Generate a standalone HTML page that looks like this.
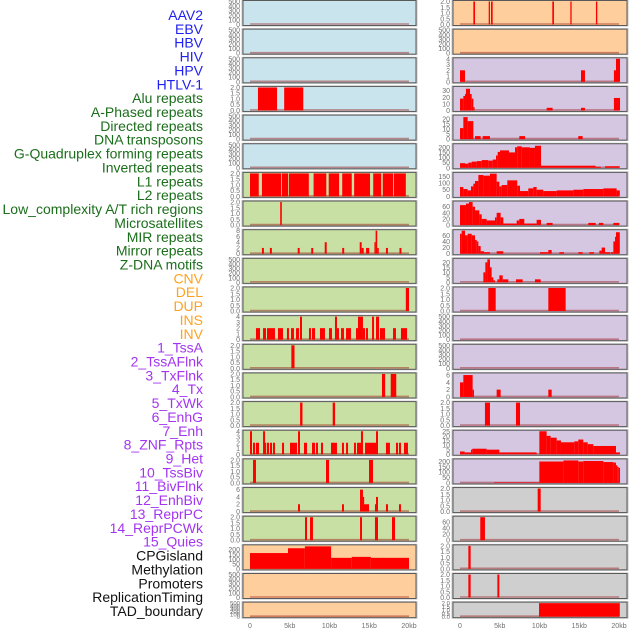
<!DOCTYPE html>
<html><head><meta charset="utf-8">
<style>
body{margin:0;background:#fff;width:630px;height:630px;overflow:hidden;font-family:"Liberation Sans",sans-serif}
svg{display:block}
</style></head>
<body>
<svg id="chart" width="630" height="630" viewBox="0 0 630 630" xmlns="http://www.w3.org/2000/svg">
<g id="labels"></g><g id="panels"></g><g id="xaxes"></g>
</svg>
<script>
// ---- track labels ----
const labelNames = ["AAV2","EBV","HBV","HIV","HPV","HTLV-1","Alu repeats","A-Phased repeats","Directed repeats","DNA transposons","G-Quadruplex forming repeats","Inverted repeats","L1 repeats","L2 repeats","Low_complexity A/T rich regions","Microsatellites","MIR repeats","Mirror repeats","Z-DNA motifs","CNV","DEL","DUP","INS","INV","1_TssA","2_TssAFlnk","3_TxFlnk","4_Tx","5_TxWk","6_EnhG","7_Enh","8_ZNF_Rpts","9_Het","10_TssBiv","11_BivFlnk","12_EnhBiv","13_ReprPC","14_ReprPCWk","15_Quies","CPGisland","Methylation","Promoters","ReplicationTiming","TAD_boundary"];
const labelGroups = [6,13,5,15,5];
const groupColors = ["#1f1ff0","#1b6e1b","#ffa21f","#a335f0","#111111"];
const xTickValues = [0,5,10,15,20];
const xTickLabels = ["0","5kb","10kb","15kb","20kb"];

// ---- series (start kb, end kb, value) ----
const L_alu = [[1.0,3.4,2],[4.3,6.7,2]];
const L_l1 = [[0,1.1,2],[1.5,3.9,2],[4.0,4.8,2],[4.9,7.4,2],[8.0,9.6,2],[9.9,11.2,2],[11.6,12.8,2],[13.1,15.1,2],[15.5,16.5,2],[16.7,18.0,2],[18.1,19.6,2]];
const L_low = [[3.8,4.0,2]];
const L_mir = [[1.5,1.75,2],[2.5,2.75,2],[6.0,6.25,2],[7.7,7.95,2],[9.4,9.65,4],[11.6,11.85,2],[13.8,14.05,4],[14.05,14.3,2],[14.6,15.0,2],[15.65,15.8,4],[15.8,16.0,8],[16.0,16.2,2],[17.1,17.35,2],[18.8,19.05,2]];
const L_del = [[19.6,20.0,2]];
const L_ins = [[0.75,1.26,2],[1.64,2.01,2],[2.14,2.52,2],[2.52,3.14,2],[3.52,4.15,2],[4.65,4.9,2],[5.16,5.53,2],[5.79,6.16,2],[6.29,6.54,4],[7.42,7.67,2],[7.8,8.18,2],[8.8,9.43,2],[9.94,10.31,2],[10.69,10.94,4],[10.94,11.19,2],[11.45,11.82,2],[12.08,12.7,2],[13.33,13.58,2],[13.58,14.21,4],[14.21,14.47,2],[14.59,14.84,2],[15.35,15.6,4],[15.85,16.23,4],[16.35,16.98,2],[17.99,18.36,2],[18.99,19.75,2]];
const L_tssa = [[5.2,5.6,2]];
const L_txflnk = [[16.6,17.0,2],[17.7,18.4,2]];
const L_txwk = [[6.3,6.6,2],[10.4,10.7,2]];
const L_enh = [[0,0.25,4],[0.38,0.63,2],[0.75,1.13,2],[1.64,1.89,4],[1.89,2.01,2],[2.14,2.39,2],[2.52,2.77,2],[2.89,3.14,2],[4.03,4.28,2],[5.03,5.41,2],[5.41,5.91,2],[6.04,6.29,4],[6.79,7.17,2],[7.8,8.18,2],[8.3,8.55,2],[8.93,9.18,2],[10.19,10.94,2],[11.57,11.82,2],[12.08,12.33,2],[13.08,13.33,2],[13.46,13.96,2],[13.96,14.21,4],[14.47,15.85,2],[15.85,16.1,4],[17.1,17.6,2],[18.36,18.62,2],[18.74,18.99,2],[19.37,19.87,2]];
const L_het = [[0.38,0.75,2],[9.56,9.94,2],[14.97,15.47,2]];
const L_bivflnk = [[6.04,6.29,2],[11.57,11.82,2],[13.84,14.21,6],[14.21,14.34,4],[14.34,14.97,2],[15.72,15.85,2],[15.85,16.1,4],[17.1,17.36,2],[18.74,18.99,2]];
const L_reprpc = [[6.92,7.17,2],[7.55,7.92,2],[13.84,14.09,2],[15.72,16.1,2],[17.86,18.24,2]];
const L_cpg = [[0,4.78,165],[4.78,6.9,215],[6.9,10.2,235],[10.2,12.8,115],[12.8,15.2,125],[15.2,20,115]];

const R_aav2 = [[1.68,1.89,2],[3.61,3.77,2],[3.9,4.11,2],[11.61,11.82,2],[13.88,14.04,2],[17.1,17.27,2]];
const R_hiv = [[0,0.63,2],[15.22,15.72,2],[19.36,19.62,2],[19.62,20.13,4]];
const R_alu = [[0,0.42,18],[0.42,0.63,22],[0.63,0.75,25],[0.75,1.26,33],[1.26,1.47,25],[1.47,1.68,18],[1.68,1.8,5],[10.9,11.65,4],[15.22,15.72,4],[19.36,20.13,19]];
const R_dir = [[0,0.42,11],[0.42,0.96,22],[0.96,1.68,18],[1.89,2.6,3],[2.85,3.77,3],[7.46,8.18,3],[14.88,15.43,3]];
const R_gq = [[0,0.63,45],[0.63,1.05,40],[1.05,1.47,50],[1.47,2.1,60],[2.1,2.73,65],[2.73,3.56,75],[3.56,4.11,70],[4.11,4.53,80],[4.53,4.74,120],[4.74,5.03,155],[5.03,6.16,170],[6.16,6.92,150],[6.92,7.2,200],[7.2,7.76,210],[7.76,8.8,200],[8.8,9.43,195],[9.43,10.19,215],[10.19,17.06,20],[17.06,17.7,10],[18.24,20.1,15]];
const R_l1 = [[0,0.42,70],[0.42,0.96,55],[0.96,1.38,45],[1.38,1.68,75],[1.68,1.89,95],[1.89,2.31,115],[2.31,2.94,160],[2.94,3.77,155],[3.77,4.61,170],[4.61,4.95,110],[4.95,5.24,75],[5.24,5.95,85],[5.95,7.2,120],[7.2,7.55,80],[7.55,8.59,40],[8.59,9.22,60],[9.22,9.64,70],[9.64,10.48,50],[10.48,12.16,40],[12.16,14.25,45],[14.25,15.51,50],[15.51,18.03,55],[18.03,19.7,60],[19.7,20.1,45]];
const R_low = [[0,0.75,65],[0.75,1.13,70],[1.13,1.59,75],[1.59,1.89,60],[1.89,2.43,48],[2.43,2.73,35],[2.73,3.35,20],[3.35,4.4,15],[4.4,4.61,25],[4.61,5.11,40],[5.11,5.45,25],[5.45,7.13,5],[7.13,7.46,15],[7.46,8.09,20],[8.09,9.64,5],[9.64,10.19,17],[10.9,11.65,7],[16.14,17.06,7],[17.48,18.03,7],[19.29,20.04,7]];
const R_mir = [[0,0.21,65],[0.21,0.63,75],[0.63,0.96,60],[0.96,1.47,65],[1.47,1.89,60],[1.89,2.1,45],[2.1,2.31,40],[2.31,2.6,25],[2.6,3.02,8],[3.02,3.77,5],[4.61,5.45,8],[10.06,11.11,5],[11.11,11.53,12],[12.5,13.08,5],[14.88,15.43,5],[16.27,16.86,5],[17.53,17.82,10],[17.82,18.24,20],[18.24,18.87,5],[18.95,19.29,5],[19.29,19.5,40],[19.5,19.62,55],[19.62,20.1,70]];
const R_zdna = [[2.94,3.19,10],[3.19,3.44,20],[3.44,3.77,23],[3.77,3.98,15],[3.98,4.19,5],[4.19,4.4,2],[4.7,4.95,3],[4.95,5.37,7],[5.37,6.08,3],[7.04,7.88,3],[9.43,10.15,3]];
const R_del = [[3.56,4.49,2],[11.11,13.29,2]];
const R_tssaflnk = [[0,0.42,4],[0.42,1.59,6],[1.59,1.76,2],[4.61,5.11,2],[11.11,11.53,2]];
const R_txwk = [[3.14,3.77,2],[7.04,7.55,2]];
const R_znf = [[0,0.59,3],[0.59,1.38,2],[1.38,1.55,5],[1.55,3.35,6],[3.35,4.95,5],[4.95,9.64,2],[9.98,10.9,25],[10.9,11.4,20],[11.4,12.16,18],[12.16,12.7,15],[12.7,14.38,13],[14.38,14.88,14],[14.88,15.51,16],[15.51,16.06,13],[16.06,16.77,11],[16.77,19.62,9],[19.62,20.13,2]];
const R_tssbiv = [[4.28,9.98,5],[9.98,13.0,200],[13.0,14.88,210],[14.88,15.51,200],[15.51,18.03,205],[18.03,19.29,195],[19.29,19.62,190],[19.62,19.79,165],[19.79,19.96,150],[19.96,20.13,140]];
const R_enhbiv = [[9.77,10.15,2]];
const R_reprpcwk = [[2.55,3.14,75]];
const R_meth = [[1.05,1.34,2]];
const R_prom = [[1.05,1.34,2],[4.7,4.95,2]];
const R_tad = [[9.94,20.1,2]];

// ---- tick sets ----
const T500 = [0,100,200,300,400,500], T2 = [0,0.5,1,1.5,2], T4=[0,1,2,3,4], T8=[0,2,4,6,8], T6=[0,2,4,6];
const BLUE="#c9e4ec",GREEN="#c8e0a4",ORANGE="#fecf9c",PURPLE="#d5c6e2",GRAY="#cfcfcf";
const E=[];
// panel definitions: [name, data, ymax, ticks, bg, decimals]
const leftPanels = [
 ["aav2",E,500,T500,BLUE,0],["hbv",E,500,T500,BLUE,0],["hpv",E,500,T500,BLUE,0],
 ["alu",L_alu,2,T2,BLUE,1],["directed",E,500,T500,BLUE,0],["g-quadruplex",E,500,T500,BLUE,0],
 ["l1",L_l1,2,T2,GREEN,1],["low-complexity",L_low,2,T2,GREEN,1],["mir",L_mir,8,T8,GREEN,0],
 ["z-dna",E,500,T500,GREEN,0],["del",L_del,2,T2,GREEN,1],["ins",L_ins,4,T4,GREEN,0],
 ["tssa",L_tssa,2,T2,GREEN,1],["txflnk",L_txflnk,2,T2,GREEN,1],["txwk",L_txwk,2,T2,GREEN,1],
 ["enh",L_enh,4,T4,GREEN,0],["het",L_het,2,T2,GREEN,1],["bivflnk",L_bivflnk,6.3,T6,GREEN,0],
 ["reprpc",L_reprpc,2,T2,GREEN,1],["cpgisland",L_cpg,240,[0,50,100,150,200],ORANGE,0],
 ["methylation",E,500,T500,ORANGE,0],["replication-timing",E,500,T500,ORANGE,0]];
const rightPanels = [
 ["ebv",R_aav2,2,T2,ORANGE,1],["hiv-empty",E,500,T500,ORANGE,0],["htlv",R_hiv,4,T4,PURPLE,0],
 ["a-phased",R_alu,35,[0,10,20,30],PURPLE,0],["dna-transposons",R_dir,23,[0,5,10,15,20],PURPLE,0],
 ["inverted",R_gq,225,[0,50,100,150,200],PURPLE,0],["l2",R_l1,172,[0,50,100,150],PURPLE,0],
 ["microsatellites",R_low,75,[0,20,40,60],PURPLE,0],["mirror",R_mir,75,[0,20,40,60],PURPLE,0],
 ["cnv",R_zdna,23,[0,5,10,15,20],PURPLE,0],["dup",R_del,2,T2,PURPLE,1],["inv",E,500,T500,PURPLE,0],
 ["tssaflnk-empty",E,500,T500,PURPLE,0],["tssaflnk",R_tssaflnk,6.3,T6,PURPLE,0],["enhg",R_txwk,2,T2,PURPLE,1],
 ["znf-rpts",R_znf,25,[0,5,10,15,20,25],PURPLE,0],["tssbiv",R_tssbiv,215,[0,50,100,150,200],PURPLE,0],
 ["enhbiv",R_enhbiv,2,T2,GRAY,1],["reprpcwk",R_reprpcwk,75,[0,20,40,60],GRAY,0],
 ["quies",R_meth,2,T2,GRAY,1],["promoters",R_prom,2,T2,GRAY,1],["tad-boundary",R_tad,2,T2,GRAY,1]];

const NS="http://www.w3.org/2000/svg";
function mk(tag,attrs,parent){const e=document.createElementNS(NS,tag);for(const k in attrs)e.setAttribute(k,attrs[k]);parent.appendChild(e);return e;}

// labels
const lg=document.getElementById('labels');
let gi=0,cnt=0;
labelNames.forEach((n,i)=>{
  while(cnt>=labelGroups[gi]){cnt-=labelGroups[gi];gi++;}
  cnt++;
  const t=mk('text',{x:203,y:15+i*13.86+5,'text-anchor':'end','font-size':'14',fill:groupColors[gi]},lg);
  
  
  t.textContent=n;
});

const pg=document.getElementById('panels');
function rowGeom(i){const top=i*28.65+0.5;const h=(i===21)?15.5:25;return {top,h};}
function drawColumn(panels,x0,x1,zeroX,pxPerKb,tickX,side){
  const xs=kb=>zeroX+kb*pxPerKb;
  panels.forEach((p,i)=>{
    const [name,data,ymax,ticks,bg,dec]=p;
    const {top,h}=rowGeom(i);
    const g=mk('g',{},pg);
    
    
    mk('rect',{x:x0-1,y:top-0.5,width:x1-x0+2,height:h+1,fill:'none',stroke:'#c4c4c4','stroke-width':1},g);
    const fr=mk('rect',{x:x0,y:top,width:x1-x0,height:h,fill:bg,stroke:'#5a5a5a','stroke-width':1},g);
    
    
    const yb=top+h-1, yt=top+1;
    const ys=v=>yb-(v/ymax)*(yb-yt);
    mk('line',{x1:xs(0),x2:xs(20),y1:yb-0.5,y2:yb-0.5,stroke:'rgba(150,20,20,0.45)','stroke-width':1.6},g);
    data.forEach(d=>{
      const r=mk('rect',{x:xs(d[0]),y:ys(d[2]),width:Math.max(1.2,xs(d[1])-xs(d[0])),height:yb-ys(d[2]),fill:'#ff0000'},g);
      
      
    });
    ticks.forEach(t=>{
      const tx=mk('text',{x:tickX,y:ys(t)+2.5,'text-anchor':'end','font-size':(h<20?'6':'7'),fill:'#707070'},g);
      
      
      tx.textContent=t.toFixed(dec);
    });
  });
  const xg=document.getElementById('xaxes');
  xTickValues.forEach((v,k)=>{
    const t=mk('text',{x:xs(v),y:628,'text-anchor':'middle','font-size':'7',fill:'#707070'},xg);
    
    
    t.textContent=xTickLabels[k];
  });
}
drawColumn(leftPanels,243,416,250,7.95,240,'left');
drawColumn(rightPanels,453,627,460,7.95,450,'right');
</script>
</body></html>
